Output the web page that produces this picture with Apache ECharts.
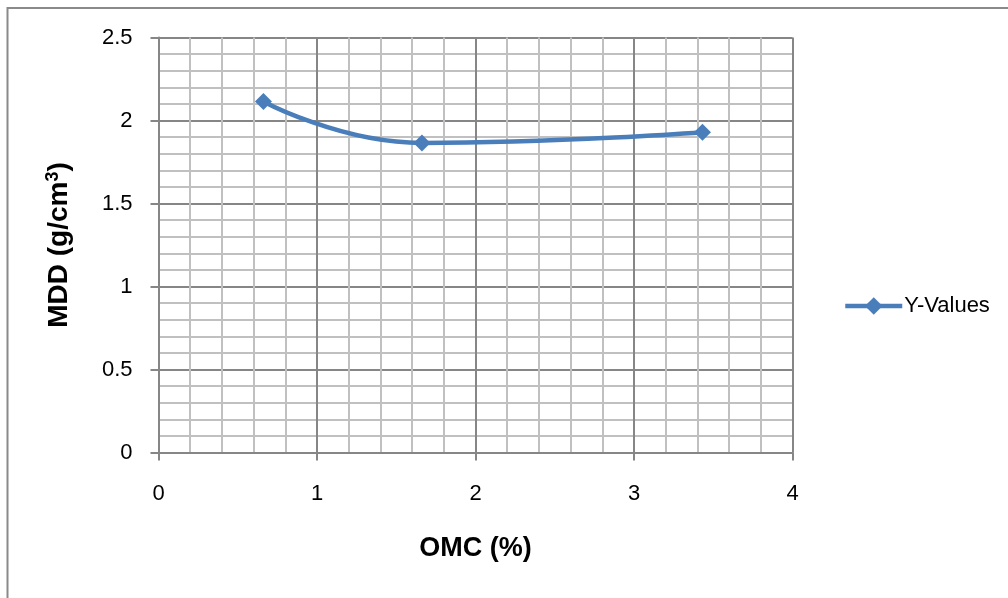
<!DOCTYPE html>
<html>
<head>
<meta charset="utf-8">
<script src="https://cdn.jsdelivr.net/npm/echarts@6/dist/echarts.min.js"></script>
<style>
html,body{margin:0;padding:0;background:#fff;}
#c{width:1008px;height:598px;}
</style>
</head>
<body>
<div id="c"></div>
<script>
const omc = [0.662, 1.662, 3.432];
const mdd = [2.115, 1.865, 1.929];
const seriesName = 'Y-Values';
const xTitle = 'OMC (%)';
const yTitleMain = 'MDD (g/cm';
const yTitleSup = '3';
const yTitleEnd = ')';

const FONT = "'Liberation Sans', Arial, sans-serif";
const chart = echarts.init(document.getElementById('c'), null, {renderer: 'canvas'});
const points = omc.map((x, i) => [x, mdd[i]]);
chart.setOption({
  animation: false,
  backgroundColor: '#fff',
  graphic: [{
    type: 'rect',
    shape: {x: 7.5, y: 8, width: 1100, height: 700},
    style: {fill: 'none', stroke: '#8a8a8a', lineWidth: 2},
    silent: true
  }],
  grid: {left: 158.5, right: 215.5, top: 37.5, bottom: 145.5, containLabel: false},
  legend: {
    data: [seriesName],
    left: 838, top: 290,
    itemWidth: 57, itemHeight: 22, itemGap: 2,
    lineStyle: {width: 4.5, color: '#4a7ebb'},
    itemStyle: {color: '#4a7ebb'},
    textStyle: {fontFamily: FONT, fontSize: 22, color: '#000', padding: [0,0,0,-3]}
  },
  xAxis: {
    type: 'value', min: 0, max: 4, interval: 1,
    name: xTitle, nameLocation: 'middle', nameGap: 83,
    nameTextStyle: {fontFamily: FONT, fontSize: 27, fontWeight: 'bold', color: '#000', verticalAlign: 'top'},
    axisLine: {show: true, onZero: false, lineStyle: {color: '#868686', width: 2}},
    axisTick: {show: true, inside: false, length: 8, lineStyle: {color: '#868686', width: 2}},
    axisLabel: {fontFamily: FONT, fontSize: 22, color: '#000', margin: 30},
    splitLine: {show: true, lineStyle: {color: '#868686', width: 2}},
    minorTick: {show: false, splitNumber: 5},
    minorSplitLine: {show: true, lineStyle: {color: '#c0c0c0', width: 2}}
  },
  yAxis: {
    type: 'value', min: 0, max: 2.5, interval: 0.5,
    name: '{a|' + yTitleMain + '}{s|' + yTitleSup + '}{a|' + yTitleEnd + '}',
    nameLocation: 'middle', nameGap: 84, nameRotate: 90,
    nameTextStyle: {
      fontFamily: FONT, fontSize: 28, fontWeight: 'bold', color: '#000',
      rich: {
        a: {fontFamily: FONT, fontSize: 28, fontWeight: 'bold', color: '#000', lineHeight: 30},
        s: {fontFamily: FONT, fontSize: 18, fontWeight: 'bold', color: '#000', verticalAlign: 'top', lineHeight: 30, padding: [0,0,10,0]}
      }
    },
    axisLine: {show: true, lineStyle: {color: '#868686', width: 2}},
    axisTick: {show: true, inside: false, length: 8, lineStyle: {color: '#868686', width: 2}},
    axisLabel: {fontFamily: FONT, fontSize: 22, color: '#000', margin: 26},
    splitLine: {show: true, lineStyle: {color: '#868686', width: 2}},
    minorTick: {show: false, splitNumber: 5},
    minorSplitLine: {show: true, lineStyle: {color: '#c0c0c0', width: 2}}
  },
  series: [{
    name: seriesName,
    type: 'line',
    data: points,
    smooth: 0.5,
    symbol: 'diamond',
    symbolSize: 17,
    lineStyle: {color: '#4a7ebb', width: 4.5},
    itemStyle: {color: '#4a7ebb'}
  }]
});
</script>
</body>
</html>
